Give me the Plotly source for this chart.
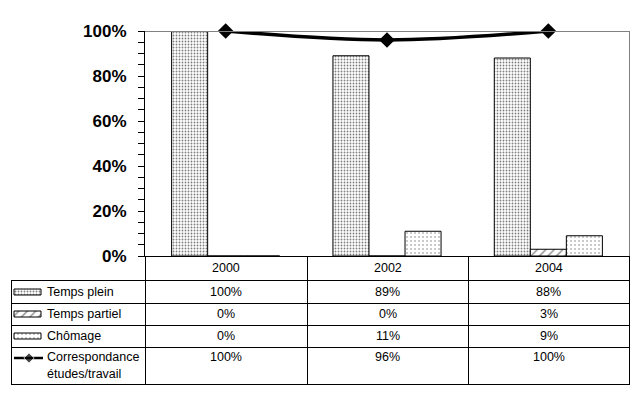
import plotly.graph_objects as go

# ---------------- data ----------------
years = ["2000", "2002", "2004"]
temps_plein = [1.00, 0.89, 0.88]
temps_partiel = [0.00, 0.00, 0.03]
chomage = [0.00, 0.11, 0.09]
correspondance = [1.00, 0.96, 1.00]
bar_names = ["Temps plein", "Temps partiel", "Chômage"]
line_name = ["Correspondance", "études/travail"]
y_ticks = [0, 0.2, 0.4, 0.6, 0.8, 1.0]

# ---------------- geometry (screen pixels) ----------------
OFF = 8                      # default page body margin
W, H = 639 - 2 * OFF, 399 - 2 * OFF
PX0, PX1, PY0, PY1 = 145, 629, 31, 256
TBL_LEFT = 11
COL_EDGES = [145, 307, 468, 629]
ROW_EDGES = [256, 280, 303, 325, 347, 384]
ROW_TEXT_Y = [268, 292, 314, 336, 357]

FONT = "Liberation Sans, Arial, sans-serif"

def fx(px):
    return (px - OFF) / W

def fy(py):
    return 1 - (py - OFF) / H

patterns = [
    dict(shape=".", size=3, solidity=0.3, fgcolor="black", bgcolor="white", fillmode="overlay"),
    dict(shape="/", size=6, solidity=0.2, fgcolor="black", bgcolor="white", fillmode="overlay"),
    dict(shape=".", size=4, solidity=0.12, fgcolor="black", bgcolor="white", fillmode="overlay"),
]

fig = go.Figure()
for name, vals, pat in zip(bar_names, [temps_plein, temps_partiel, chomage], patterns):
    fig.add_trace(go.Bar(
        x=years, y=vals, name=name,
        marker=dict(color="white", line=dict(color="black", width=1), pattern=pat),
        xaxis="x", yaxis="y", showlegend=False,
    ))

fig.add_trace(go.Scatter(
    x=years, y=correspondance, mode="lines+markers",
    line=dict(color="black", width=3.5, shape="spline"),
    marker=dict(symbol="diamond", size=12, color="black"),
    cliponaxis=False, showlegend=False, xaxis="x", yaxis="y",
))

# legend keys inside table (pixel axes x2/y2)
fig.add_trace(go.Bar(
    y=ROW_TEXT_Y[1:4], x=[27, 27, 27], base=[14, 14, 14], width=6,
    orientation="h",
    marker=dict(
        color="white", line=dict(color="black", width=1),
        pattern=dict(shape=[p["shape"] for p in patterns],
                     size=[p["size"] for p in patterns],
                     solidity=[p["solidity"] for p in patterns],
                     fgcolor="black", bgcolor="white", fillmode="overlay"),
    ),
    xaxis="x2", yaxis="y2", showlegend=False, hoverinfo="skip",
))
fig.add_trace(go.Scatter(
    x=[14, 29, 43], y=[ROW_TEXT_Y[4] + 1] * 3, mode="lines+markers",
    line=dict(color="black", width=2.5),
    marker=dict(symbol="diamond", size=[0, 8, 0], color="black"),
    xaxis="x2", yaxis="y2", showlegend=False, hoverinfo="skip",
))

shapes = []
def hline(y, x0, x1, color="black"):
    shapes.append(dict(type="line", xref="x2", yref="y2", x0=x0, x1=x1, y0=y + 0.5, y1=y + 0.5,
                       line=dict(color=color, width=1)))
def vline(x, y0, y1, color="black"):
    shapes.append(dict(type="line", xref="x2", yref="y2", x0=x + 0.5, x1=x + 0.5, y0=y0, y1=y1,
                       line=dict(color=color, width=1)))

# plot area gray border
hline(PY0, PX0, PX1 + 1, "#808080")
vline(PX1, PY0, PY1, "#808080")
# table
hline(ROW_EDGES[0], COL_EDGES[0], COL_EDGES[-1] + 1)
for y in ROW_EDGES[1:]:
    hline(y, TBL_LEFT, COL_EDGES[-1] + 1)
vline(TBL_LEFT, ROW_EDGES[1], ROW_EDGES[-1] + 1)
for x in COL_EDGES:
    vline(x, ROW_EDGES[0], ROW_EDGES[-1] + 1)

annotations = []
def txt(x, y, s, anchor="center"):
    annotations.append(dict(x=x, y=y, xref="x2", yref="y2", text=s, showarrow=False,
                            xanchor=anchor, yanchor="middle",
                            font=dict(family=FONT, size=12.5, color="black")))

col_centers = [(COL_EDGES[i] + COL_EDGES[i + 1]) / 2 for i in range(3)]
for c, yr in zip(col_centers, years):
    txt(c, ROW_TEXT_Y[0], yr)
for r, (name, vals) in enumerate(zip(bar_names, [temps_plein, temps_partiel, chomage])):
    txt(45, ROW_TEXT_Y[r + 1], name, "left")
    for c, v in zip(col_centers, vals):
        txt(c, ROW_TEXT_Y[r + 1], f"{round(v * 100)}%")
txt(45, ROW_TEXT_Y[4], line_name[0], "left")
txt(45, ROW_TEXT_Y[4] + 17, line_name[1], "left")
for c, v in zip(col_centers, correspondance):
    txt(c, ROW_TEXT_Y[4], f"{round(v * 100)}%")

fig.update_layout(
    width=W, height=H,
    margin=dict(l=0, r=0, t=0, b=0, pad=0, autoexpand=False),
    paper_bgcolor="white", plot_bgcolor="rgba(0,0,0,0)",
    barmode="group", bargap=0.33, bargroupgap=0,
    shapes=shapes, annotations=annotations,
    xaxis=dict(domain=[fx(PX0), fx(PX1)], showticklabels=False, ticks="",
               showline=True, linecolor="black", linewidth=1, showgrid=False,
               zeroline=False, fixedrange=True, automargin=False),
    yaxis=dict(domain=[fy(PY1), fy(PY0)], range=[0, 1],
               tickvals=y_ticks, tickformat=".0%",
               tickfont=dict(family=FONT, size=17, color="black", weight="bold"),
               ticks="outside", ticklen=6, tickcolor="black", ticklabelstandoff=8,
               minor=dict(dtick=0.05, ticks="outside", ticklen=6, tickcolor="black"),
               showline=True, linecolor="black", linewidth=1,
               showgrid=False, zeroline=False, fixedrange=True, automargin=False),
    yaxis3=dict(domain=[fy(PY1), fy(PY0)], range=[0, 1], overlaying="y",
                anchor="x", side="left", dtick=0.05, ticks="inside", ticklen=5,
                tickcolor="black", showticklabels=False, showgrid=False,
                zeroline=False, showline=False, automargin=False),
    xaxis2=dict(domain=[0, 1], range=[OFF, OFF + W], visible=False, fixedrange=True,
                anchor="y2", automargin=False),
    yaxis2=dict(domain=[0, 1], range=[OFF + H, OFF], visible=False, fixedrange=True,
                anchor="x2", automargin=False),
)

fig.write_html("out.html")
